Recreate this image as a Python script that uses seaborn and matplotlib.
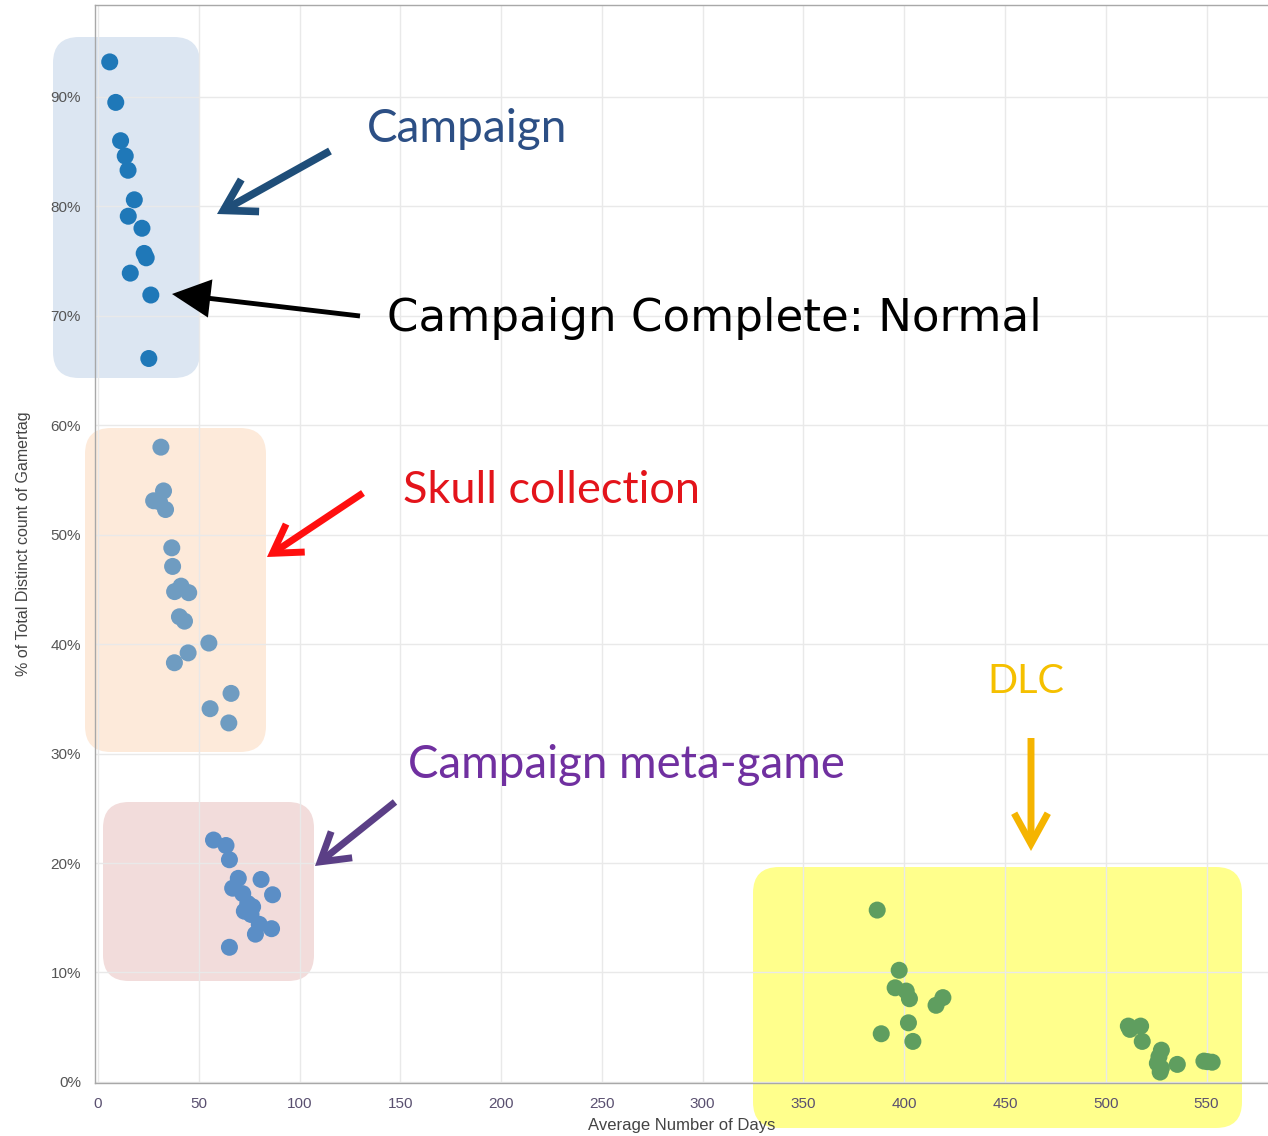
import matplotlib
matplotlib.use("Agg")
import matplotlib.pyplot as plt
from matplotlib.patches import FancyBboxPatch
from matplotlib.ticker import PercentFormatter, MultipleLocator
import seaborn as sns
import pandas as pd

# values
campaign_days = [5.8, 8.8, 11.2, 13.5, 14.9, 18.0, 15.0, 21.8, 22.9, 23.9, 16.0, 26.2, 25.2]
campaign_pct = [93.2, 89.5, 86.0, 84.6, 83.3, 80.6, 79.1, 78.0, 75.7, 75.3, 73.9, 71.9, 66.1]

skull_days = [31.2, 32.5, 27.6, 30.5, 33.5, 36.6, 37.0, 38.0, 41.2, 45.0, 40.4, 42.9, 55.0, 44.7, 37.9, 66.0, 55.6, 64.9]
skull_pct = [58.0, 54.0, 53.1, 53.0, 52.3, 48.8, 47.1, 44.8, 45.3, 44.7, 42.5, 42.1, 40.1, 39.2, 38.3, 35.5, 34.1, 32.8]

meta_days = [57.3, 63.5, 65.2, 69.6, 80.9, 66.8, 71.8, 86.6, 74.3, 76.7, 72.6, 75.9, 80.0, 86.1, 78.1, 65.2]
meta_pct = [22.1, 21.6, 20.3, 18.6, 18.5, 17.7, 17.2, 17.1, 16.3, 16.0, 15.6, 15.3, 14.4, 14.0, 13.5, 12.3]

dlc_days = [386.6, 397.5, 395.5, 401.0, 402.6, 415.8, 419.2, 402.1, 388.6, 404.3, 511.2, 517.3, 512.0,
            518.1, 527.6, 526.4, 525.6, 527.6, 527.0, 535.5, 548.7, 552.8, 550.5]
dlc_pct = [15.7, 10.2, 8.6, 8.3, 7.6, 7.0, 7.7, 5.4, 4.4, 3.7, 5.1, 5.1, 4.8,
           3.7, 2.9, 2.3, 1.7, 1.25, 0.9, 1.6, 1.9, 1.8, 1.85]

groups = ["Campaign", "Skull", "Meta", "DLC"]
dot_colors = {"Campaign": "#1f78b8", "Skull": "#6f9cc1", "Meta": "#5b8ec6", "DLC": "#5f9e5f"}

W, H = 1268, 1136


def fx(px):
    return px / W


def fy(py):
    return 1 - py / H


df = pd.concat([
    pd.DataFrame({"days": campaign_days, "pct": campaign_pct, "group": "Campaign"}),
    pd.DataFrame({"days": skull_days, "pct": skull_pct, "group": "Skull"}),
    pd.DataFrame({"days": meta_days, "pct": meta_pct, "group": "Meta"}),
    pd.DataFrame({"days": dlc_days, "pct": dlc_pct, "group": "DLC"}),
], ignore_index=True)

sns.set_style("white")
plt.rcParams["font.family"] = ["Liberation Sans", "DejaVu Sans"]

fig = plt.figure(figsize=(W / 100, H / 100), dpi=100)
ax = fig.add_axes([fx(95), fy(1083), 1 - fx(95), fy(5) - fy(1083)])
ax.set_facecolor("none")

# highlight boxes behind the axes (figure pixel extents)
boxes = [
    (53, 37, 200, 378, "#dce6f2"),
    (85, 428, 266, 752, "#fdeada"),
    (103, 802, 314, 981, "#f2dcdb"),
    (753, 867, 1242, 1128, "#ffff8c"),
]
r = 26
for x0, y0, x1, y1, c in boxes:
    p = FancyBboxPatch((fx(x0 + r), fy(y1 - r)), fx(x1 - x0 - 2 * r), (y1 - y0 - 2 * r) / H,
                       boxstyle="round,pad=%f" % (r / W), mutation_aspect=W / H,
                       transform=fig.transFigure, facecolor=c, edgecolor="none", zorder=-5)
    fig.patches.append(p)

sns.scatterplot(data=df, x="days", y="pct", hue="group", hue_order=groups, palette=dot_colors,
                s=150, linewidth=0, legend=False, ax=ax, zorder=3)

ax.set_xlim(-1.5, 580.5)
ax.set_ylim(-0.1, 98.4)
ax.xaxis.set_major_locator(MultipleLocator(50))
ax.yaxis.set_major_locator(MultipleLocator(10))
ax.yaxis.set_major_formatter(PercentFormatter(decimals=0))
ax.grid(True, color="#e9e9e9", lw=1)
ax.set_axisbelow(True)
for s in ["left", "bottom", "top"]:
    ax.spines[s].set_color("#a8a8a8")
    ax.spines[s].set_linewidth(1)
ax.spines["right"].set_visible(False)
ax.tick_params(axis="both", length=6, width=0.8, color="#b0b0b0", labelcolor="#555555",
               labelsize=11, pad=4, direction="out")
ax.tick_params(axis="x", labelcolor="#5a5070")
ax.set_xlabel("Average Number of Days", fontsize=12, color="#444444", labelpad=5)
ax.set_ylabel("% of Total Distinct count of Gamertag", fontsize=11.5, color="#444444", labelpad=14)

# annotations
font_ann = ["Lato", "DejaVu Sans"]
fig.text(fx(367), fy(142), "Campaign", color="#2c4f85", fontsize=33, family=font_ann, va="baseline")
fig.text(fx(387), fy(331), "Campaign Complete: Normal", color="#000000", fontsize=32.5,
         family=["DejaVu Sans"], va="baseline")
fig.text(fx(403), fy(503), "Skull collection", color="#e3141b", fontsize=32.5, family=font_ann, va="baseline")
fig.text(fx(408), fy(778), "Campaign meta-game", color="#7030a0", fontsize=32.9, family=font_ann, va="baseline")
fig.text(fx(987), fy(693), "DLC", color="#f5c000", fontsize=28.5, family=font_ann, va="baseline")

arrows = [
    ((330, 151), (217, 214), "#1f4e79", "->,head_length=1.0,head_width=0.6", 5.5),
    ((360, 316), (172, 294), "#000000", "-|>,head_length=1.0,head_width=0.5", 3.5),
    ((363, 493), (267, 557), "#ff0f0f", "->,head_length=0.9,head_width=0.55", 5),
    ((395, 802), (315, 866), "#5b3f86", "->,head_length=0.9,head_width=0.55", 5),
    ((1031, 738), (1031, 851), "#f5b400", "->,head_length=1.0,head_width=0.55", 5),
]
for tail, head, c, style, lw in arrows:
    ax.annotate("", xy=(fx(head[0]), fy(head[1])), xycoords="figure fraction",
                xytext=(fx(tail[0]), fy(tail[1])), textcoords="figure fraction",
                arrowprops=dict(arrowstyle=style, color=c, lw=lw, shrinkA=0, shrinkB=0,
                                mutation_scale=22, joinstyle="miter", capstyle="butt"),
                annotation_clip=False)

fig.savefig("out.png", dpi=100)
